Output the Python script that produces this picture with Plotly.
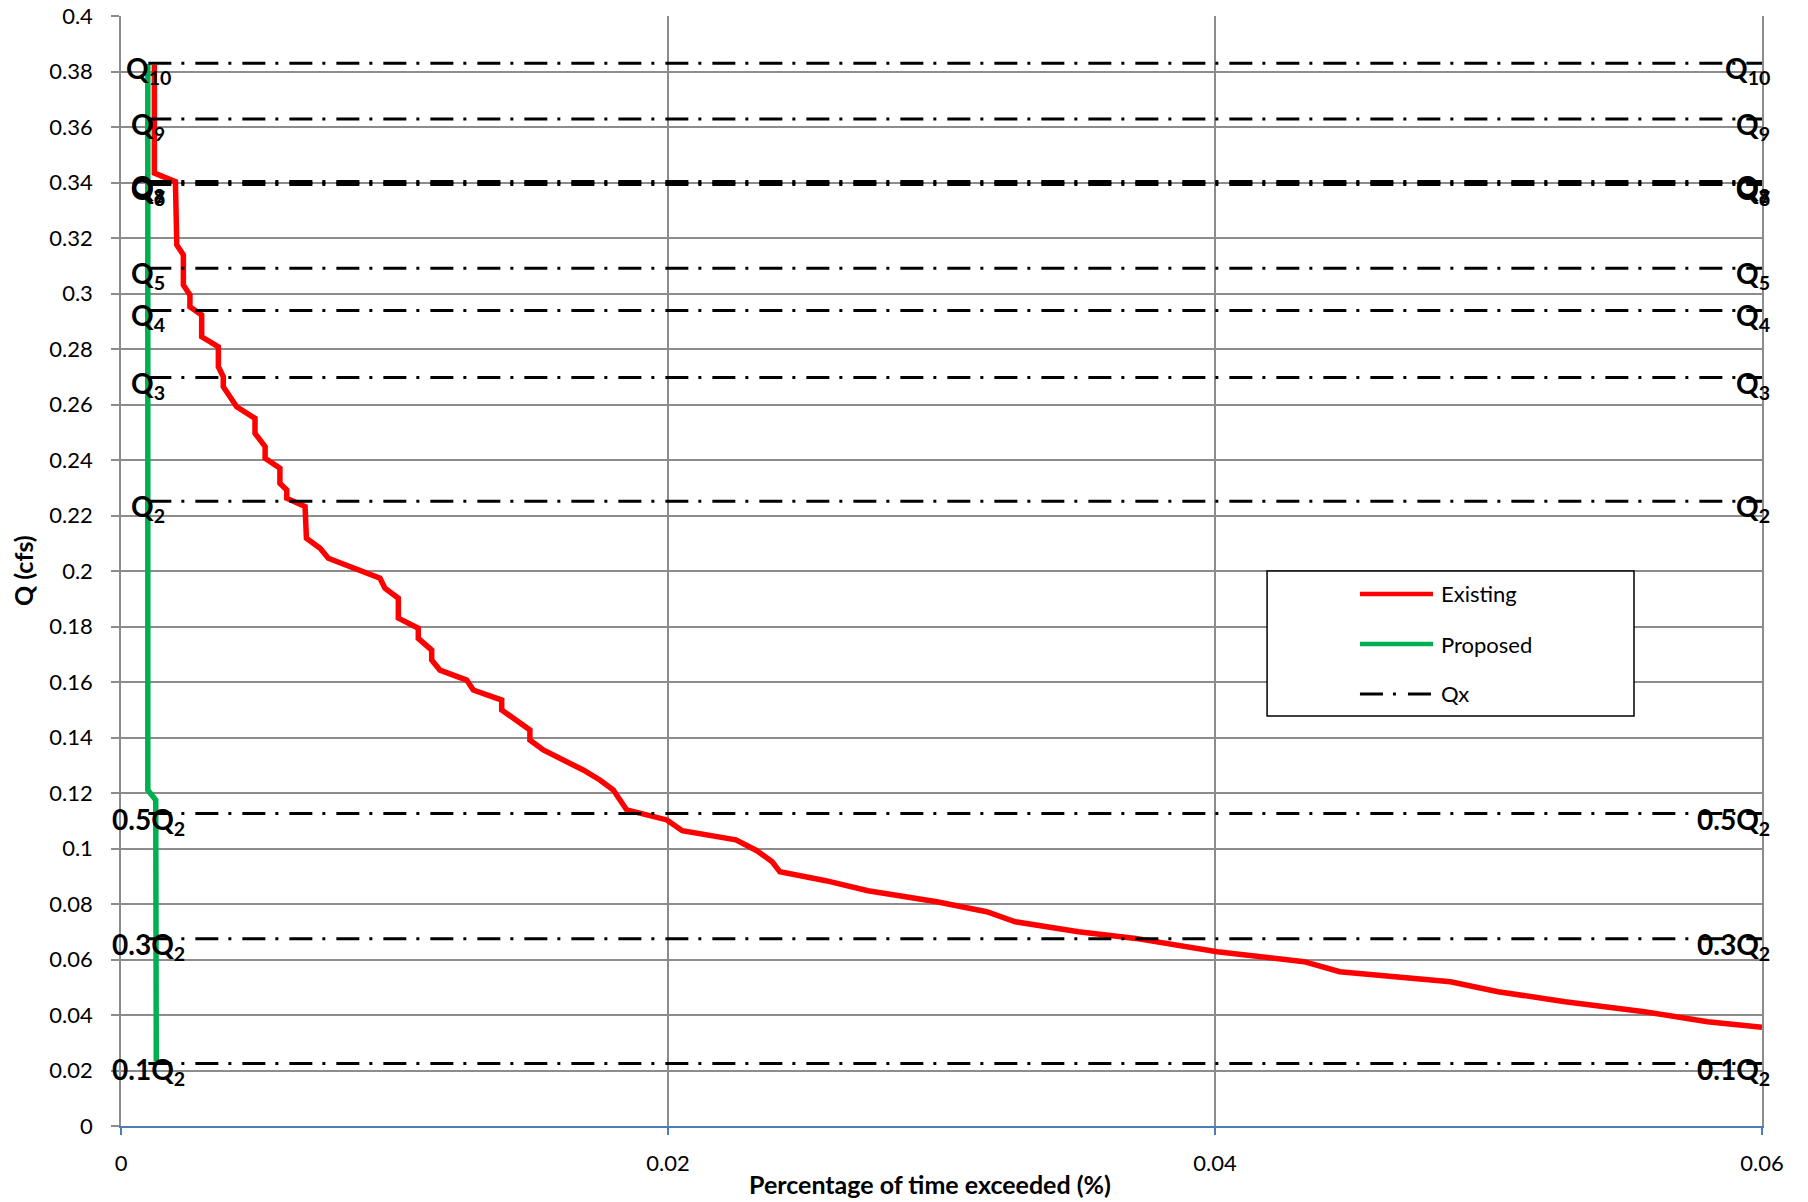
import plotly.graph_objects as go

# Flow-duration curve, existing condition: % of time exceeded vs discharge (cfs)
existing_pct = [0.00122, 0.00122, 0.00199, 0.00204, 0.00228, 0.00228, 0.00252, 0.00252,
                0.00295, 0.00295, 0.00356, 0.00356, 0.00374, 0.00374, 0.00423, 0.00490,
                0.00490, 0.00527, 0.00527, 0.00581, 0.00581, 0.00606, 0.00606, 0.00673,
                0.00678, 0.00728, 0.00758, 0.00947, 0.00965, 0.01014, 0.01014, 0.01087,
                0.01087, 0.01136, 0.01136, 0.01166, 0.01264, 0.01288, 0.01392, 0.01392,
                0.01495, 0.01495, 0.01544, 0.01690, 0.01751, 0.01800, 0.01849, 0.01996,
                0.02052, 0.02248, 0.02325, 0.02381, 0.02409, 0.02577, 0.02731, 0.02983,
                0.03165, 0.03270, 0.03501, 0.03710, 0.04008, 0.04326, 0.04456, 0.04861,
                0.05035, 0.05280, 0.05570, 0.05801, 0.06000]
existing_q = [0.3823, 0.3434, 0.3403, 0.3175, 0.3139, 0.3031, 0.2995, 0.2952,
              0.2923, 0.2844, 0.2808, 0.2736, 0.2700, 0.2664, 0.2592, 0.2550,
              0.2496, 0.2448, 0.2406, 0.2370, 0.2316, 0.2292, 0.2262, 0.2232,
              0.2118, 0.2082, 0.2046, 0.1974, 0.1938, 0.1902, 0.1830, 0.1794,
              0.1757, 0.1715, 0.1679, 0.1643, 0.1607, 0.1571, 0.1535, 0.1499,
              0.1427, 0.1391, 0.1355, 0.1283, 0.1247, 0.1211, 0.1139, 0.1103,
              0.1064, 0.1031, 0.0992, 0.0952, 0.0916, 0.0884, 0.0848, 0.0808,
              0.0772, 0.0736, 0.0700, 0.0676, 0.0628, 0.0592, 0.0556, 0.0520,
              0.0484, 0.0448, 0.0412, 0.0376, 0.0356]

# Flow-duration curve, proposed condition
proposed_pct = [0.00098, 0.00098, 0.00127, 0.00129]
proposed_q = [0.3827, 0.1211, 0.1175, 0.0232]

# Flow-control thresholds drawn as horizontal reference lines
flow_labels = ["Q<sub>10</sub>", "Q<sub>9</sub>", "Q<sub>8</sub>", "Q<sub>7</sub>",
               "Q<sub>6</sub>", "Q<sub>5</sub>", "Q<sub>4</sub>", "Q<sub>3</sub>",
               "Q<sub>2</sub>", "0.5Q<sub>2</sub>", "0.3Q<sub>2</sub>", "0.1Q<sub>2</sub>"]
flow_values = [0.3830, 0.3629, 0.3404, 0.3398, 0.3393, 0.3091, 0.2939, 0.2697,
               0.2251, 0.1126, 0.0675, 0.0225]
flow_span = [0.001, 0.06]

y_ticks = [0, 0.02, 0.04, 0.06, 0.08, 0.1, 0.12, 0.14, 0.16, 0.18, 0.2,
           0.22, 0.24, 0.26, 0.28, 0.3, 0.32, 0.34, 0.36, 0.38, 0.4]
y_tick_text = ["0", "0.02", "0.04", "0.06", "0.08", "0.1", "0.12", "0.14", "0.16",
               "0.18", "0.2", "0.22", "0.24", "0.26", "0.28", "0.3", "0.32", "0.34",
               "0.36", "0.38", "0.4"]
x_ticks = [0, 0.02, 0.04, 0.06]
x_tick_text = ["0", "0.02", "0.04", "0.06"]

series_names = ["Existing", "Proposed", "Qx"]
series_colors = ["#ff0000", "#00b050", "#000000"]
QX_DASH = "23px,10px,3px,11px"

FONT = "Lato"
GRID = "#8c8c8c"
AXIS_BLUE = "#4a7ebb"

fig = go.Figure()

fig.add_trace(go.Scatter(x=existing_pct, y=existing_q, mode="lines", name=series_names[0],
                         line=dict(color=series_colors[0], width=5.5), showlegend=False))
fig.add_trace(go.Scatter(x=proposed_pct, y=proposed_q, mode="lines", name=series_names[1],
                         line=dict(color=series_colors[1], width=5.5), showlegend=False))

annotations = []
for lab, val in zip(flow_labels, flow_values):
    fig.add_trace(go.Scatter(x=flow_span, y=[val, val], mode="lines", name=series_names[2],
                             line=dict(color=series_colors[2], width=3, dash=QX_DASH),
                             showlegend=False, hoverinfo="skip"))
    annotations.append(dict(x=flow_span[0], y=val, xref="x", yref="y", text=lab,
                            showarrow=False, xanchor="center", yanchor="middle", yshift=-7,
                            font=dict(family=FONT, size=28, color="#000", weight="bold")))
    annotations.append(dict(x=flow_span[1], y=val, xref="x", yref="y", text=lab,
                            showarrow=False, xanchor="right", yanchor="middle", yshift=-7,
                            xshift=10,
                            font=dict(family=FONT, size=28, color="#000", weight="bold")))

# Axis titles
annotations.append(dict(x=-0.0597, y=0.5, xref="paper", yref="paper", text="Q (cfs)",
                        textangle=-90, showarrow=False, xanchor="center", yanchor="middle",
                        font=dict(family=FONT, size=25, color="#000", weight="bold")))
annotations.append(dict(x=0.493, y=-0.0523, xref="paper", yref="paper",
                        text="Percentage of time exceeded (%)", showarrow=False,
                        xanchor="center", yanchor="middle",
                        font=dict(family=FONT, size=25, color="#000", weight="bold")))

# Legend box
shapes = [dict(type="rect", xref="paper", yref="paper", x0=0.6984, x1=0.9220,
               y0=0.3694, y1=0.5, line=dict(color="#000", width=1.5), fillcolor="#fff",
               layer="above")]
legend_rows = [0.4793, 0.4342, 0.3892]
for name, color, ry in zip(series_names, series_colors, legend_rows):
    if name == "Qx":
        ln = dict(color=color, width=3, dash="23px,10px,3px,12px")
    else:
        ln = dict(color=color, width=4.5)
    shapes.append(dict(type="line", xref="paper", yref="paper", x0=0.7550, x1=0.7995,
                       y0=ry, y1=ry, line=ln, layer="above"))
    annotations.append(dict(x=0.8032, y=ry, xref="paper", yref="paper", text=name,
                            showarrow=False, xanchor="left", yanchor="middle",
                            font=dict(family=FONT, size=22, color="#000")))

fig.update_layout(
    width=1808, height=1202,
    margin=dict(l=121, r=46, t=16, b=76, autoexpand=False),
    paper_bgcolor="#fff", plot_bgcolor="#fff",
    font=dict(family=FONT, size=22, color="#000"),
    showlegend=False,
    annotations=annotations,
    shapes=shapes,
)
fig.update_xaxes(range=[0, 0.06], tickvals=x_ticks, ticktext=x_tick_text,
                 automargin=False,
                 showgrid=True, gridcolor=GRID, gridwidth=1.5,
                 showline=True, linecolor=AXIS_BLUE, linewidth=1.5,
                 ticks="outside", ticklen=7, tickcolor=AXIS_BLUE, tickwidth=1.5,
                 ticklabelstandoff=10, zeroline=False,
                 tickfont=dict(family=FONT, size=22, color="#000"))
fig.update_yaxes(range=[0, 0.4], tickvals=y_ticks, ticktext=y_tick_text,
                 automargin=False,
                 showgrid=True, gridcolor=GRID, gridwidth=1.5,
                 showline=True, linecolor=GRID, linewidth=1.5, mirror=True,
                 ticks="outside", ticklen=8, tickcolor=GRID, tickwidth=1.5,
                 ticklabelstandoff=14, zeroline=False,
                 tickfont=dict(family=FONT, size=22, color="#000"))

fig.write_html("out.html")
